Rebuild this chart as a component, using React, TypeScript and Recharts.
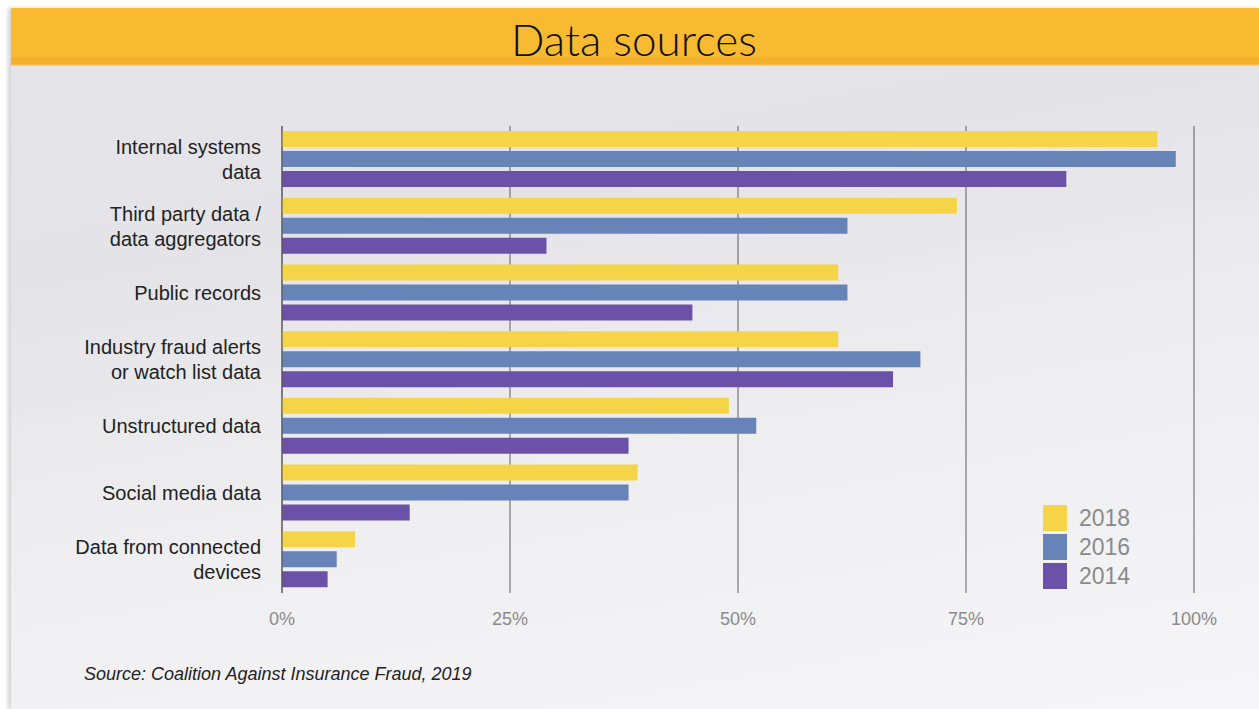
import React from 'react';
import { BarChart, Bar, XAxis, YAxis, CartesianGrid } from 'recharts';

const categories = [
  'Internal systems\ndata',
  'Third party data /\ndata aggregators',
  'Public records',
  'Industry fraud alerts\nor watch list data',
  'Unstructured data',
  'Social media data',
  'Data from connected\ndevices',
];
const values2018 = [96, 74, 61, 61, 49, 39, 8];
const values2016 = [98, 62, 62, 70, 52, 38, 6];
const values2014 = [86, 29, 45, 67, 38, 14, 5];
const xTicks = [0, 25, 50, 75, 100];
const seriesNames = ['2018', '2016', '2014'];
const seriesColors = ['#F5D447', '#6783B7', '#6B52A8'];

const data = categories.map((name, i) => ({
  name,
  '2018': values2018[i],
  '2016': values2016[i],
  '2014': values2014[i],
}));

const YTick = (props: any) => {
  const { x, y, payload } = props;
  const lines = String(payload.value).split('\n');
  const lh = 25;
  return (
    <text
      x={x}
      y={y}
      textAnchor="end"
      fontSize={20}
      fill="#222"
      fontFamily="'Liberation Sans', Arial, sans-serif"
    >
      {lines.map((l, i) => (
        <tspan key={i} x={x} dy={i === 0 ? -((lines.length - 1) * lh) / 2 + 7 : lh}>
          {l}
        </tspan>
      ))}
    </text>
  );
};

export default function App() {
  return (
    <div style={{ position: 'fixed', left: 0, top: 0, width: 1259, height: 709, background: '#fff', overflow: 'hidden' }}>
      <div
        style={{
          position: 'absolute',
          left: 11,
          top: 8,
          width: 1248,
          height: 701,
          background: 'linear-gradient(170deg, #e6e6ea 0%, #e4e4e8 30%, #eeeef1 60%, #f6f5f8 100%)',
          boxShadow: '-3px 0 4px rgba(0,0,0,0.18)',
        }}
      >
        <div
          style={{
            position: 'absolute',
            left: 0,
            top: 0,
            width: 1248,
            height: 58,
            background: 'linear-gradient(to bottom, #F8BA30 0%, #F8BA30 84%, #F4AE2A 86%, #F4B02C 96%, #F7D58A 100%)',
            display: 'flex',
            alignItems: 'center',
            justifyContent: 'center',
          }}
        >
          <span
            style={{
              fontFamily: "Lato, 'Open Sans', sans-serif",
              fontWeight: 300,
              fontSize: 44,
              color: '#111',
              marginLeft: -2,
              marginTop: 3,
            }}
          >
            Data sources
          </span>
        </div>
        <div style={{ position: 'absolute', left: 0, top: 0 }}>
          <BarChart
            width={1248}
            height={701}
            data={data}
            layout="vertical"
            margin={{ top: 118, right: 65, bottom: 86, left: 0 }}
            barSize={16}
            barGap={4}
            barCategoryGap="8%"
          >
            <CartesianGrid horizontal={false} vertical={true} stroke="#5f5f5f" strokeWidth={1} />
            <XAxis
              type="number"
              domain={[0, 100]}
              ticks={xTicks}
              tickFormatter={(v: number) => `${v}%`}
              axisLine={false}
              tickLine={false}
              height={30}
              tickMargin={13}
              tick={{ fill: '#8a8a8a', fontSize: 18, fontFamily: "'Liberation Sans', Arial, sans-serif" }}
            />
            <YAxis
              type="category"
              dataKey="name"
              width={271}
              axisLine={{ stroke: '#555' }}
              tickLine={false}
              tickSize={0}
              tickMargin={21}
              tick={<YTick />}
              interval={0}
            />
            {seriesNames.map((s, i) => (
              <Bar key={s} dataKey={s} fill={seriesColors[i]} isAnimationActive={false} />
            ))}
          </BarChart>
        </div>
        <div style={{ position: 'absolute', left: 1032, top: 495, display: 'flex', flexDirection: 'column' }}>
          {seriesNames.map((s, i) => (
            <div key={s} style={{ display: 'flex', alignItems: 'center', height: 29 }}>
              <div style={{ width: 24, height: 26, background: seriesColors[i] }} />
              <span
                style={{
                  marginLeft: 12,
                  fontSize: 23,
                  color: '#8a8a8a',
                  fontFamily: "'Liberation Sans', Arial, sans-serif",
                  lineHeight: '26px',
                }}
              >
                {s}
              </span>
            </div>
          ))}
        </div>
        <div
          style={{
            position: 'absolute',
            left: 73,
            top: 656,
            fontFamily: "'Liberation Sans', Arial, sans-serif",
            fontStyle: 'italic',
            fontSize: 18,
            color: '#222',
          }}
        >
          Source: Coalition Against Insurance Fraud, 2019
        </div>
      </div>
    </div>
  );
}
